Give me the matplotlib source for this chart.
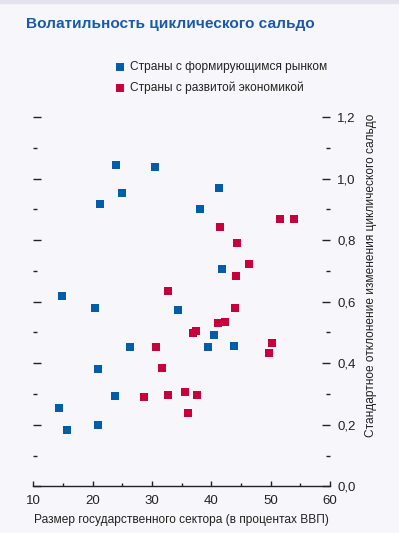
import matplotlib.pyplot as plt
from matplotlib.patches import Rectangle

# размер госсектора, % ВВП / стандартное отклонение
emerging_x = [23.9, 30.5, 24.95, 21.24, 14.89, 20.45, 34.3, 26.25, 20.95, 23.8,
              14.33, 20.9, 15.68, 41.3, 38.04, 41.85, 40.45, 39.44, 43.87]
emerging_y = [1.043, 1.037, 0.953, 0.917, 0.617, 0.578, 0.572, 0.451, 0.381, 0.294,
              0.253, 0.199, 0.183, 0.968, 0.900, 0.705, 0.492, 0.452, 0.456]

advanced_x = [32.7, 30.68, 31.69, 28.65, 32.7, 51.57, 53.93, 41.46, 44.38, 46.35, 44.16,
              44.04, 41.18, 42.36, 36.86, 37.47, 50.18, 49.77, 35.61, 37.54, 36.07]
advanced_y = [0.634, 0.451, 0.385, 0.291, 0.297, 0.870, 0.867, 0.841, 0.792, 0.722, 0.682,
              0.578, 0.531, 0.534, 0.499, 0.503, 0.465, 0.433, 0.306, 0.296, 0.238]

labels = ['Страны с формирующимся рынком', 'Страны с развитой экономикой']
y_ticks = [0.0, 0.2, 0.4, 0.6, 0.8, 1.0, 1.2]
y_ticklabels = ['0,0', '0,2', '0,4', '0,6', '0,8', '1,0', '1,2']

bg = '#f7f6fa'
blue = '#005ea8'
red = '#c8003c'
txt = '#222222'

plt.rcParams['font.family'] = ['Liberation Sans', 'DejaVu Sans']

fig = plt.figure(figsize=(3.99, 5.33), dpi=100, facecolor=bg)
fig.patches.append(Rectangle((0, 0.994), 1, 0.006, transform=fig.transFigure,
                             color='#e4e2ee', zorder=0))
ax = fig.add_axes([0.0835, 0.0876, 0.744, 0.693], facecolor=bg)

ax.scatter(emerging_x, emerging_y, marker='s', s=34, color=blue, linewidths=0,
           label=labels[0])
ax.scatter(advanced_x, advanced_y, marker='s', s=34, color=red, linewidths=0,
           label=labels[1])

ax.set_xlim(10, 60)
ax.set_ylim(0, 1.2)
ax.set_xticks([10, 20, 30, 40, 50, 60])
ax.set_xticks([15, 25, 35, 45, 55], minor=True)
ax.set_yticks(y_ticks)
ax.set_yticklabels(y_ticklabels)
ax.set_yticks([0.1, 0.3, 0.5, 0.7, 0.9, 1.1], minor=True)

for side in ['top', 'left', 'right']:
    ax.spines[side].set_visible(False)
ax.spines['bottom'].set_linewidth(1.0)
ax.spines['bottom'].set_color(txt)

ax.tick_params(axis='x', which='major', direction='in', length=3.5, width=1,
               color=txt, labelsize=9.5, labelcolor=txt, pad=6)
ax.tick_params(axis='x', which='minor', direction='in', length=2, width=1, color=txt)
ax.tick_params(axis='y', which='major', direction='in', length=6, width=1, color=txt,
               left=True, right=True, labelleft=False, labelright=True,
               labelsize=9.5, labelcolor=txt, pad=5)
ax.tick_params(axis='y', which='minor', direction='in', length=3, width=1, color=txt,
               left=True, right=True)

ax.set_xlabel('Размер государственного сектора (в процентах ВВП)', fontsize=8.6,
              color=txt, labelpad=5)
fig.text(0.93, 0.484, 'Стандартное отклонение изменения циклического сальдо',
         rotation=90, ha='center', va='center', fontsize=8.6, color=txt)

fig.text(0.064, 0.955, 'Волатильность циклического сальдо', fontsize=11.1,
         fontweight='bold', color='#1a5aa6', ha='left', va='center')

ax.legend(loc='upper left', bbox_to_anchor=(0.272, 0.886), bbox_transform=fig.transFigure,
          frameon=False, fontsize=8.6, handletextpad=-0.2, labelspacing=0.75,
          borderpad=0, borderaxespad=0, markerscale=0.9, labelcolor=txt)

fig.savefig('out.png', dpi=100, facecolor=bg)
